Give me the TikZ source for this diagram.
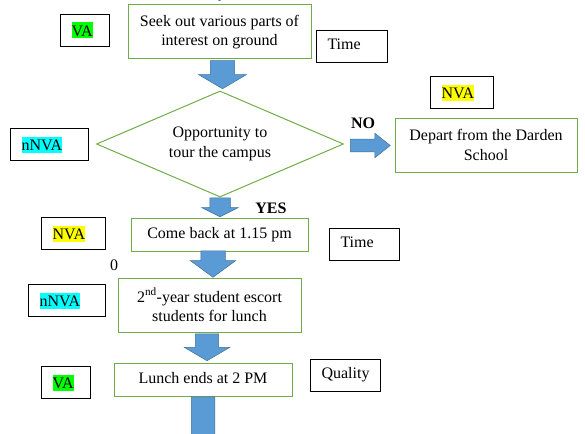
\documentclass[tikz,border=0pt]{standalone}
\usepackage{fontspec}
\setmainfont{Liberation Serif}
\usetikzlibrary{shapes.geometric,shapes.arrows,calc}
\definecolor{cBox}{RGB}{112,173,71}
\definecolor{cArrow}{RGB}{91,155,213}
\definecolor{cArrowEdge}{RGB}{65,113,156}
\definecolor{cVA}{RGB}{0,255,0}
\definecolor{cNVA}{RGB}{255,255,0}
\definecolor{cnNVA}{RGB}{0,255,255}
\newcommand{\hlt}[2]{{\setlength{\fboxsep}{0pt}\colorbox{#1}{\vrule height 14pt depth 2pt width 0pt #2}}}

\begin{document}
\begin{tikzpicture}[x=1pt,y=-1pt,
  txt/.style={font=\fontsize{16}{19.5}\selectfont},
  bold/.style={font=\bfseries\fontsize{16}{19.5}\selectfont},
  flow/.style={txt,draw=cBox,line width=1pt,align=center},
  tag/.style={txt,draw,line width=1pt,anchor=north west,align=left,text width=#1,inner xsep=11pt,minimum height=32pt},
  blk/.style={single arrow,draw=cArrowEdge,fill=cArrow,line width=0.5pt,inner xsep=0pt,anchor=tail},
  down/.style={blk,rotate=-90}]
\useasboundingbox (0,0) rectangle (585,433);
\clip (0,0) rectangle (585,433);
\node[flow,minimum width=183pt,minimum height=54pt] (seek) at (219.5,32) {Seek out various parts of\\interest on ground};
\node[flow,diamond,aspect=2.33,minimum width=247pt,minimum height=106pt] (opp) at (220,144) {Opportunity to\\tour the campus};
\node[flow,minimum width=182pt,minimum height=54pt] (dep) at (486,145) {Depart from the Darden\\School};
\node[flow,minimum width=177pt,minimum height=33pt] (come) at (219.5,234.5) {Come back at 1.15 pm};
\node[flow,minimum width=183pt,minimum height=54pt] (esc) at (209.5,305) {2\textsuperscript{nd}-year student escort\\students for lunch};
\node[flow,minimum width=178pt,minimum height=33pt,text depth=4pt] (lunch) at (203,379.5) {Lunch ends at 2 PM};
\node[tag=27pt] (va1) at (60,14) {\hlt{cVA}{VA}};
\node[tag=49pt,text depth=5pt] (time1) at (316,30) {Time};
\node[tag=56pt] (nnva1) at (10,128) {\hlt{cnNVA}{nNVA}};
\node[tag=41pt] (nva1) at (430,76) {\hlt{cNVA}{NVA}};
\node[tag=42pt] (nva2) at (41,217) {\hlt{cNVA}{NVA}};
\node[tag=48pt,text depth=5pt] (time2) at (329,228) {Time};
\node[tag=55pt] (nnva2) at (28,284) {\hlt{cnNVA}{nNVA}};
\node[tag=27pt] (va2) at (41,366) {\hlt{cVA}{VA}};
\node[tag=48pt,text depth=5pt] (qual) at (310,359) {Quality};
\node[bold] (no) at (363,123) {NO};
\node[bold] (yes) at (271,208) {YES};
\node[txt] (zero) at (114,265) {0};
\node[down,anchor=tip,inner ysep=11.8pt,single arrow head extend=12pt,single arrow tip angle=119,minimum height=28pt] (a0) at ($(seek.north)+(0,-3.5)$) {};
\node[down,inner ysep=11.8pt,single arrow head extend=12pt,single arrow tip angle=119,minimum height=28pt] (a1) at ($(seek.south)+(3,1)$) {};
\node[down,inner ysep=10pt,single arrow head extend=8pt,single arrow tip angle=127,minimum height=19pt] (a2) at (opp.south) {};
\node[down,inner ysep=12pt,single arrow head extend=10.5pt,single arrow tip angle=107.5,minimum height=26.5pt] (a3) at ($(come.south)+(-6.5,-1)$) {};
\node[down,inner ysep=11.3pt,single arrow head extend=11.2pt,single arrow tip angle=119,minimum height=27pt] (a4) at ($(esc.south)+(-2.5,1)$) {};
\node[blk,inner ysep=6.2pt,single arrow head extend=5.8pt,single arrow tip angle=77,minimum height=40pt] (a5) at ($(opp.east)+(6,1.5)$) {};
\node[down,inner ysep=11.5pt,single arrow head extend=12pt,single arrow tip angle=119,minimum height=60pt] (a6) at (lunch.south) {};
\end{tikzpicture}
\end{document}
